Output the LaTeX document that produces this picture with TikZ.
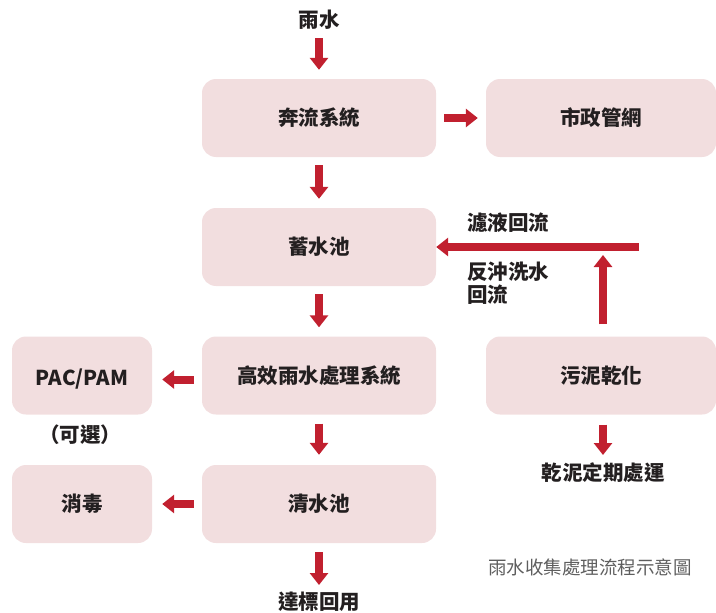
\documentclass[tikz,border=0pt]{standalone}
\usepackage{fontspec}
\setmainfont{Noto Sans CJK TC}
\usetikzlibrary{arrows.meta,calc}
\definecolor{boxfill}{HTML}{F2DEDF}
\definecolor{arrred}{HTML}{C1202F}
\definecolor{txt}{HTML}{231F20}
\definecolor{capgray}{HTML}{5E5E5E}
\begin{document}
\begin{tikzpicture}[x=1pt,y=-1pt,
  box/.style={fill=boxfill, rounded corners=14pt, minimum width=234pt, minimum height=78pt,
    font=\bfseries\fontsize{20.5}{24}\selectfont, text=txt, inner sep=0pt},
  sbox/.style={box, minimum width=140pt},
  rbox/.style={box, minimum width=230pt},
  lbl/.style={font=\bfseries\fontsize{20.5}{23}\selectfont, text=txt, inner sep=0pt},
  arr/.style={draw=arrred, line width=8pt, -{Triangle[width=18pt,length=12pt]}}]
\useasboundingbox (0,0) rectangle (716,613);

\node[lbl] (rain) at (319,20) {雨水};
\node[box] (b1) at (319,118) {奔流系統};
\node[rbox] (city) at (601,118) {市政管網};
\node[box] (b2) at (319,247) {蓄水池};
\node[box] (b3) at (319,375.5) {高效雨水處理系統};
\node[box] (b4) at (319,504) {清水池};
\node[sbox] (pac) at (82,375.5) {};
\node[lbl] (pactext) at (82,379) {PAC/PAM};
\node[lbl] (opt) at (80,435) {（可選）};
\node[sbox] (dis) at (82,504) {消毒};
\node[rbox] (sludge) at (601,375.5) {污泥乾化};
\node[lbl] (dry) at (603,473) {乾泥定期處運};
\node[lbl] (reuse) at (319,602) {達標回用};
\node[lbl, anchor=west] (f1) at (467,223) {濾液回流};
\node[lbl, anchor=west, align=left] (f2) at (467,283.5) {反沖洗水\\回流};
\node[font=\fontsize{18.5}{21}\selectfont, text=capgray, inner sep=0pt] (caption) at (590,567) {雨水收集處理流程示意圖};

\coordinate (fbR) at (639,247);
\coordinate (fbJ) at (603,255);

\draw[arr] ($(rain.center)+(0,18)$) -- ($(b1.north)+(0,-9)$);
\draw[arr] ($(b1.east)+(8,0)$) -- ($(city.west)+(-8,0)$);
\draw[arr] ($(b1.south)+(0,8)$) -- ($(b2.north)+(0,-9)$);
\draw[arr] ($(b2.south)+(0,8)$) -- ($(b3.north)+(0,-9)$);
\draw[arr] ($(b3.south)+(0,9)$) -- ($(b4.north)+(0,-10)$);
\draw[arr] ($(b4.south)+(0,9)$) -- ($(reuse.center)+(0,-17)$);
\draw[arr] ($(b3.west)+(-8,4)$) -- ($(pac.east)+(10,4)$);
\draw[arr] ($(b4.west)+(-8,0)$) -- ($(dis.east)+(10,0)$);
\draw[arr] ($(sludge.south)+(2,10)$) -- ($(dry.center)+(0,-18)$);
\draw[arr] ($(sludge.north)+(2,-12)$) -- (fbJ);
\draw[arr] (fbR) -- (b2.east);
\end{tikzpicture}
\end{document}
